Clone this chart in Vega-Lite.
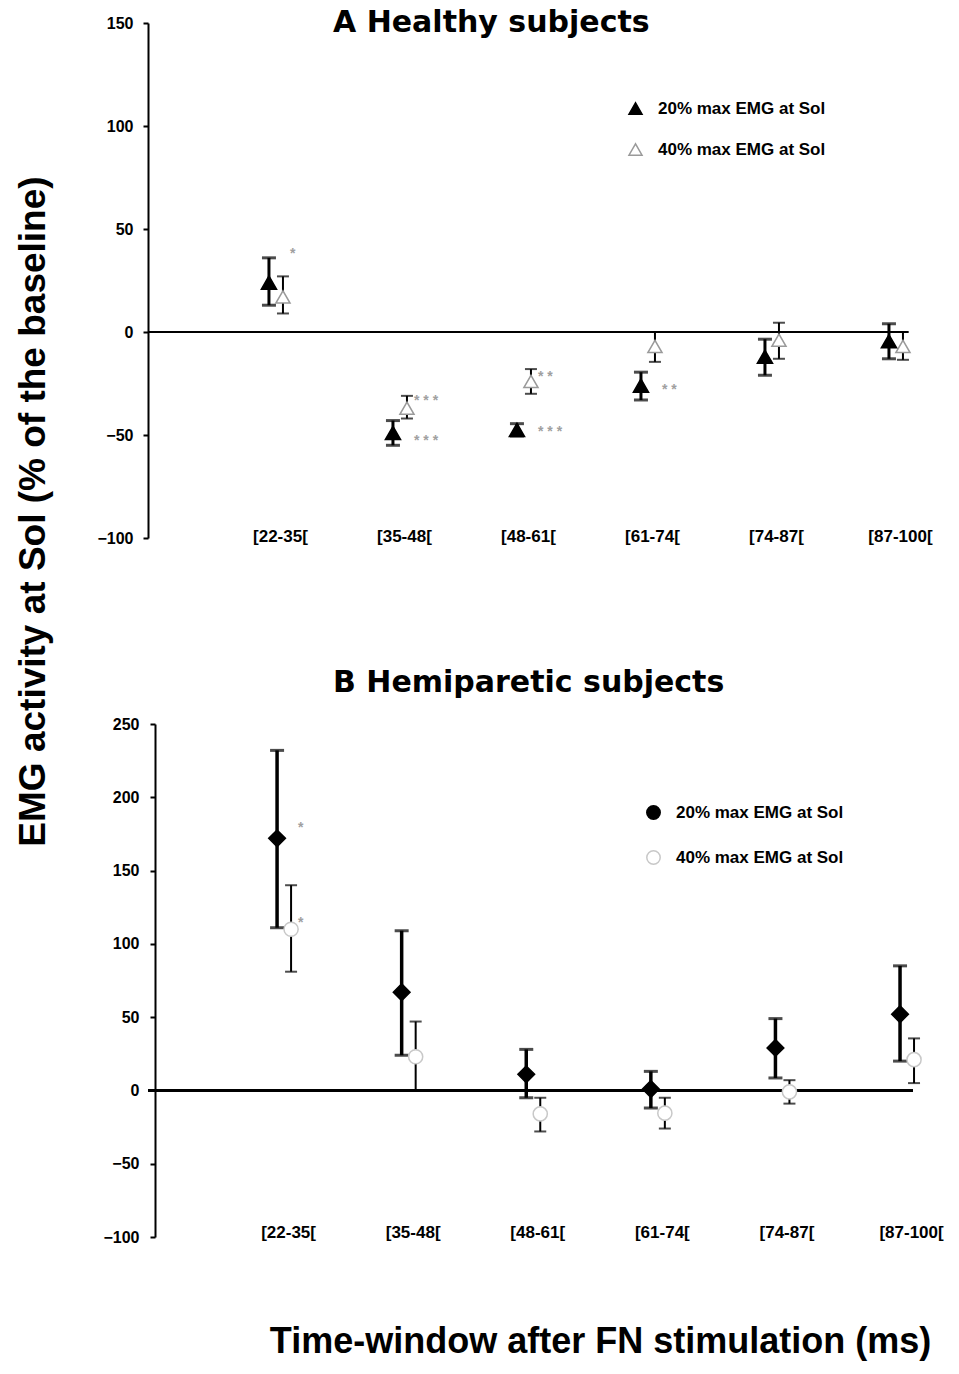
{
  "$schema": "https://vega.github.io/schema/vega-lite/v6.json",
  "background": "white",
  "padding": {"left": 14, "top": 8, "right": 5, "bottom": 5},
  "title": {"text": "EMG activity at Sol  (% of the baseline)", "orient": "left", "anchor": "middle", "offset": 44, "dx": 172, "fontSize": 37, "font": "Liberation Sans", "fontWeight": "bold", "color": "black"},
  "config": {
    "view": {"stroke": null},
    "font": "Liberation Sans",
    "axis": {"labelFont": "Liberation Sans", "titleFont": "Liberation Sans", "labelColor": "black", "titleColor": "black", "domainColor": "black", "tickColor": "black", "grid": false},
    "legend": {"labelFont": "Liberation Sans", "labelColor": "black", "labelLimit": 400}
  },
  "datasets": {
    "healthy": [
      {"window": "[22-35[", "cond": "20% max EMG at Sol", "mean": 24, "lo": 13, "hi": 36},
      {"window": "[22-35[", "cond": "40% max EMG at Sol", "mean": 17, "lo": 9, "hi": 27},
      {"window": "[35-48[", "cond": "20% max EMG at Sol", "mean": -49, "lo": -55, "hi": -43},
      {"window": "[35-48[", "cond": "40% max EMG at Sol", "mean": -37, "lo": -42, "hi": -31},
      {"window": "[48-61[", "cond": "20% max EMG at Sol", "mean": -47.5, "lo": -50.5, "hi": -44.5},
      {"window": "[48-61[", "cond": "40% max EMG at Sol", "mean": -24, "lo": -30, "hi": -18},
      {"window": "[61-74[", "cond": "20% max EMG at Sol", "mean": -26, "lo": -33, "hi": -19.5},
      {"window": "[61-74[", "cond": "40% max EMG at Sol", "mean": -7, "lo": -14.5, "hi": 0},
      {"window": "[74-87[", "cond": "20% max EMG at Sol", "mean": -12, "lo": -21, "hi": -3.5},
      {"window": "[74-87[", "cond": "40% max EMG at Sol", "mean": -4, "lo": -13, "hi": 4.5},
      {"window": "[87-100[", "cond": "20% max EMG at Sol", "mean": -4.5, "lo": -13, "hi": 4},
      {"window": "[87-100[", "cond": "40% max EMG at Sol", "mean": -7, "lo": -13.5, "hi": 0}
    ],
    "hemi": [
      {"window": "[22-35[", "cond": "20% max EMG at Sol", "mean": 172, "lo": 111, "hi": 232},
      {"window": "[22-35[", "cond": "40% max EMG at Sol", "mean": 110, "lo": 81, "hi": 140},
      {"window": "[35-48[", "cond": "20% max EMG at Sol", "mean": 67, "lo": 24, "hi": 109},
      {"window": "[35-48[", "cond": "40% max EMG at Sol", "mean": 23, "lo": 0, "hi": 47},
      {"window": "[48-61[", "cond": "20% max EMG at Sol", "mean": 11, "lo": -5, "hi": 28},
      {"window": "[48-61[", "cond": "40% max EMG at Sol", "mean": -16, "lo": -28, "hi": -5},
      {"window": "[61-74[", "cond": "20% max EMG at Sol", "mean": 1, "lo": -12, "hi": 13},
      {"window": "[61-74[", "cond": "40% max EMG at Sol", "mean": -15.5, "lo": -26, "hi": -5},
      {"window": "[74-87[", "cond": "20% max EMG at Sol", "mean": 29, "lo": 8.5, "hi": 49},
      {"window": "[74-87[", "cond": "40% max EMG at Sol", "mean": -1, "lo": -9, "hi": 7},
      {"window": "[87-100[", "cond": "20% max EMG at Sol", "mean": 52, "lo": 20, "hi": 85},
      {"window": "[87-100[", "cond": "40% max EMG at Sol", "mean": 21, "lo": 5, "hi": 35.5}
    ],
    "healthyStars": [
      {"window": "[22-35[", "value": 38, "label": "*"},
      {"window": "[35-48[", "value": -33.5, "label": "* * *"},
      {"window": "[35-48[", "value": -53, "label": "* * *"},
      {"window": "[48-61[", "value": -22, "label": "* *"},
      {"window": "[48-61[", "value": -48.5, "label": "* * *"},
      {"window": "[61-74[", "value": -28, "label": "* *"}
    ],
    "hemiStars": [
      {"window": "[22-35[", "value": 179, "label": "*"},
      {"window": "[22-35[", "value": 114, "label": "*"}
    ]
  },
  "spacing": 122,
  "resolve": {"scale": {"fill": "independent", "stroke": "independent", "x": "independent", "y": "independent"}},
  "vconcat": [
    {
      "width": 760,
      "height": 515,
      "title": {"text": "A Healthy subjects", "anchor": "start", "frame": "group", "dx": 185, "offset": -23, "fontSize": 30, "font": "DejaVu Sans", "fontWeight": "bold", "color": "black"},
      "data": {"name": "healthy"},
      "layer": [
        {
          "mark": {"type": "rule", "color": "black", "strokeWidth": 2},
          "encoding": {
            "y": {"datum": 0, "type": "quantitative", "scale": {"domain": [-100, 150], "nice": false, "zero": false},
              "axis": {"values": [-100, -50, 0, 50, 100, 150], "domainWidth": 2, "tickWidth": 2, "tickSize": 5, "labelFontSize": 16, "labelFontWeight": "bold", "labelPadding": 10, "title": null}}
          }
        },
        {
          "transform": [{"filter": "datum.cond == '20% max EMG at Sol'"}],
          "mark": {"type": "rule", "color": "black", "strokeWidth": 3, "xOffset": -7},
          "encoding": {
            "x": {"field": "window", "type": "ordinal", "sort": null,
              "scale": {"type": "point", "domain": ["[22-35[", "[35-48[", "[48-61[", "[61-74[", "[74-87[", "[87-100["], "padding": 0.5645, "align": 0.914},
              "axis": {"title": null, "domain": false, "ticks": false, "labelAngle": 0, "labelPadding": -10, "labelOffset": 4, "labelFontSize": 17, "labelFontWeight": "bold"}},
            "y": {"field": "lo", "type": "quantitative"},
            "y2": {"field": "hi"}
          }
        },
        {
          "transform": [{"filter": "datum.cond == '20% max EMG at Sol'"}],
          "mark": {"type": "tick", "orient": "horizontal", "color": "black", "size": 14, "thickness": 3, "xOffset": -7},
          "encoding": {"x": {"field": "window", "type": "ordinal", "sort": null}, "y": {"field": "lo", "type": "quantitative"}}
        },
        {
          "transform": [{"filter": "datum.cond == '20% max EMG at Sol'"}],
          "mark": {"type": "tick", "orient": "horizontal", "color": "black", "size": 14, "thickness": 3, "xOffset": -7},
          "encoding": {"x": {"field": "window", "type": "ordinal", "sort": null}, "y": {"field": "hi", "type": "quantitative"}}
        },
        {
          "transform": [{"filter": "datum.cond == '40% max EMG at Sol'"}],
          "mark": {"type": "rule", "color": "black", "strokeWidth": 2, "xOffset": 7},
          "encoding": {"x": {"field": "window", "type": "ordinal", "sort": null}, "y": {"field": "lo", "type": "quantitative"}, "y2": {"field": "hi"}}
        },
        {
          "transform": [{"filter": "datum.cond == '40% max EMG at Sol'"}],
          "mark": {"type": "tick", "orient": "horizontal", "color": "black", "size": 12, "thickness": 2, "xOffset": 7},
          "encoding": {"x": {"field": "window", "type": "ordinal", "sort": null}, "y": {"field": "lo", "type": "quantitative"}}
        },
        {
          "transform": [{"filter": "datum.cond == '40% max EMG at Sol'"}],
          "mark": {"type": "tick", "orient": "horizontal", "color": "black", "size": 12, "thickness": 2, "xOffset": 7},
          "encoding": {"x": {"field": "window", "type": "ordinal", "sort": null}, "y": {"field": "hi", "type": "quantitative"}}
        },
        {
          "transform": [{"filter": "datum.cond == '40% max EMG at Sol'"}],
          "mark": {"type": "point", "shape": "triangle-up", "size": 200, "strokeWidth": 1.5, "opacity": 1, "xOffset": 7},
          "encoding": {
            "x": {"field": "window", "type": "ordinal", "sort": null},
            "y": {"field": "mean", "type": "quantitative"},
            "fill": {"field": "cond", "type": "nominal", "scale": {"domain": ["20% max EMG at Sol", "40% max EMG at Sol"], "range": ["black", "white"]},
              "legend": {"title": null, "orient": "none", "legendX": 479, "legendY": 77, "symbolType": "triangle-up", "symbolSize": 170, "symbolStrokeWidth": 1.5, "labelFontSize": 17, "labelFontWeight": "bold", "rowPadding": 22, "labelOffset": 14}},
            "stroke": {"field": "cond", "type": "nominal", "scale": {"domain": ["20% max EMG at Sol", "40% max EMG at Sol"], "range": ["black", "#9a9a9a"]},
              "legend": {"title": null, "orient": "none", "legendX": 479, "legendY": 77, "symbolType": "triangle-up", "symbolSize": 170, "symbolStrokeWidth": 1.5, "labelFontSize": 17, "labelFontWeight": "bold", "rowPadding": 22, "labelOffset": 14}}
          }
        },
        {
          "transform": [{"filter": "datum.cond == '20% max EMG at Sol'"}],
          "mark": {"type": "point", "shape": "triangle-up", "size": 230, "strokeWidth": 1.5, "opacity": 1, "xOffset": -7},
          "encoding": {
            "x": {"field": "window", "type": "ordinal", "sort": null},
            "y": {"field": "mean", "type": "quantitative"},
            "fill": {"field": "cond", "type": "nominal"},
            "stroke": {"field": "cond", "type": "nominal"}
          }
        },
        {
          "data": {"name": "healthyStars"},
          "mark": {"type": "text", "align": "left", "baseline": "middle", "xOffset": 14, "fontSize": 14, "fontWeight": "bold", "color": "#a0a0a0"},
          "encoding": {
            "x": {"field": "window", "type": "ordinal", "sort": null},
            "y": {"field": "value", "type": "quantitative"},
            "text": {"field": "label"}
          }
        }
      ]
    },
    {
      "width": 765,
      "height": 513,
      "title": {"text": "B Hemiparetic subjects", "anchor": "start", "frame": "group", "dx": 185, "offset": 18, "fontSize": 30, "font": "DejaVu Sans", "fontWeight": "bold", "color": "black"},
      "data": {"name": "hemi"},
      "layer": [
        {
          "mark": {"type": "rule", "color": "black", "strokeWidth": 2.5},
          "encoding": {
            "y": {"datum": 0, "type": "quantitative", "scale": {"domain": [-100, 250], "nice": false, "zero": false},
              "axis": {"values": [-100, -50, 0, 50, 100, 150, 200, 250], "offset": -7, "domainWidth": 2, "tickWidth": 2, "tickSize": 5, "labelFontSize": 16, "labelFontWeight": "bold", "labelPadding": 11, "title": null}}
          }
        },
        {
          "transform": [{"filter": "datum.cond == '20% max EMG at Sol'"}],
          "mark": {"type": "rule", "color": "black", "strokeWidth": 3.5, "xOffset": -7},
          "encoding": {
            "x": {"field": "window", "type": "ordinal", "sort": null,
              "scale": {"type": "point", "domain": ["[22-35[", "[35-48[", "[48-61[", "[61-74[", "[74-87[", "[87-100["], "padding": 0.57, "align": 0.958},
              "axis": {"domain": false, "ticks": false, "labelAngle": 0, "labelPadding": -13, "labelOffset": 4, "labelFontSize": 17, "labelFontWeight": "bold",
                "title": "Time-window after FN stimulation (ms)", "titleFontSize": 36, "titleFontWeight": "bold", "titleX": 452, "titleY": 115, "titleAlign": "center", "titleBaseline": "alphabetic"}},
            "y": {"field": "lo", "type": "quantitative"},
            "y2": {"field": "hi"}
          }
        },
        {
          "transform": [{"filter": "datum.cond == '20% max EMG at Sol'"}],
          "mark": {"type": "tick", "orient": "horizontal", "color": "black", "size": 14, "thickness": 3, "xOffset": -7},
          "encoding": {"x": {"field": "window", "type": "ordinal", "sort": null}, "y": {"field": "lo", "type": "quantitative"}}
        },
        {
          "transform": [{"filter": "datum.cond == '20% max EMG at Sol'"}],
          "mark": {"type": "tick", "orient": "horizontal", "color": "black", "size": 14, "thickness": 3, "xOffset": -7},
          "encoding": {"x": {"field": "window", "type": "ordinal", "sort": null}, "y": {"field": "hi", "type": "quantitative"}}
        },
        {
          "transform": [{"filter": "datum.cond == '40% max EMG at Sol'"}],
          "mark": {"type": "rule", "color": "black", "strokeWidth": 2, "xOffset": 7},
          "encoding": {"x": {"field": "window", "type": "ordinal", "sort": null}, "y": {"field": "lo", "type": "quantitative"}, "y2": {"field": "hi"}}
        },
        {
          "transform": [{"filter": "datum.cond == '40% max EMG at Sol'"}],
          "mark": {"type": "tick", "orient": "horizontal", "color": "black", "size": 12, "thickness": 2, "xOffset": 7},
          "encoding": {"x": {"field": "window", "type": "ordinal", "sort": null}, "y": {"field": "lo", "type": "quantitative"}}
        },
        {
          "transform": [{"filter": "datum.cond == '40% max EMG at Sol'"}],
          "mark": {"type": "tick", "orient": "horizontal", "color": "black", "size": 12, "thickness": 2, "xOffset": 7},
          "encoding": {"x": {"field": "window", "type": "ordinal", "sort": null}, "y": {"field": "hi", "type": "quantitative"}}
        },
        {
          "transform": [{"filter": "datum.cond == '40% max EMG at Sol'"}],
          "mark": {"type": "point", "shape": "circle", "size": 200, "strokeWidth": 1.5, "opacity": 1, "xOffset": 7},
          "encoding": {
            "x": {"field": "window", "type": "ordinal", "sort": null},
            "y": {"field": "mean", "type": "quantitative"},
            "fill": {"field": "cond", "type": "nominal", "scale": {"domain": ["20% max EMG at Sol", "40% max EMG at Sol"], "range": ["black", "white"]},
              "legend": {"title": null, "orient": "none", "legendX": 497, "legendY": 80, "symbolType": "circle", "symbolSize": 180, "symbolStrokeWidth": 1.5, "labelFontSize": 17, "labelFontWeight": "bold", "rowPadding": 24, "labelOffset": 14}},
            "stroke": {"field": "cond", "type": "nominal", "scale": {"domain": ["20% max EMG at Sol", "40% max EMG at Sol"], "range": ["black", "#c8c8c8"]},
              "legend": {"title": null, "orient": "none", "legendX": 497, "legendY": 80, "symbolType": "circle", "symbolSize": 180, "symbolStrokeWidth": 1.5, "labelFontSize": 17, "labelFontWeight": "bold", "rowPadding": 24, "labelOffset": 14}}
          }
        },
        {
          "transform": [{"filter": "datum.cond == '20% max EMG at Sol'"}],
          "mark": {"type": "point", "shape": "diamond", "size": 280, "strokeWidth": 1.5, "opacity": 1, "xOffset": -7},
          "encoding": {
            "x": {"field": "window", "type": "ordinal", "sort": null},
            "y": {"field": "mean", "type": "quantitative"},
            "fill": {"field": "cond", "type": "nominal"},
            "stroke": {"field": "cond", "type": "nominal"}
          }
        },
        {
          "data": {"name": "hemiStars"},
          "mark": {"type": "text", "align": "left", "baseline": "middle", "xOffset": 14, "fontSize": 14, "fontWeight": "bold", "color": "#a0a0a0"},
          "encoding": {
            "x": {"field": "window", "type": "ordinal", "sort": null},
            "y": {"field": "value", "type": "quantitative"},
            "text": {"field": "label"}
          }
        }
      ]
    }
  ]
}
